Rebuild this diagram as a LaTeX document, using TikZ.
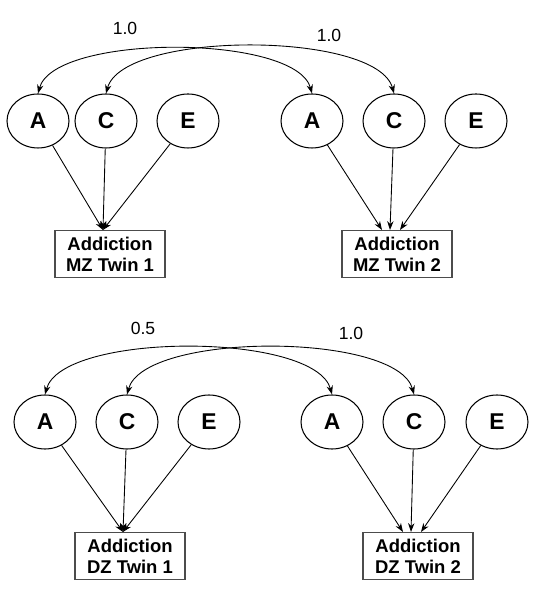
\documentclass[tikz,border=0pt]{standalone}
\usepackage{fontspec}
\setmainfont{Liberation Sans}
\usetikzlibrary{shapes.geometric,arrows.meta}
\tikzset{
	latent/.style={ellipse,draw,line width=.6pt,minimum width=1.24cm,minimum height=1.08cm,inner sep=0pt,font=\bfseries\fontsize{13}{15}\selectfont},
	pheno/.style={rectangle,draw=black!70,line width=.6pt,align=center,minimum width=2.2cm,minimum height=.94cm,inner sep=1pt,font=\bfseries\fontsize{10.5}{12}\selectfont},
	path/.style={line width=.5pt,-{Stealth[length=5pt,width=3.6pt]}},
	corr/.style={line width=.5pt,{Stealth[length=5pt,width=3.6pt]}-{Stealth[length=5pt,width=3.6pt]},out=75,in=105,looseness=.58},
	coef/.style={font=\fontsize{10}{12}\selectfont}
}
\begin{document}
\begin{tikzpicture}
	\useasboundingbox (0,0) rectangle (10.72,11.98);
	% MZ twins
	\node[latent] (mzA1) at (.76,9.56) {A};
	\node[latent] (mzC1) at (2.12,9.56) {C};
	\node[latent] (mzE1) at (3.76,9.56) {E};
	\node[latent] (mzA2) at (6.24,9.56) {A};
	\node[latent] (mzC2) at (7.88,9.56) {C};
	\node[latent] (mzE2) at (9.52,9.56) {E};
	\node[pheno] (mz1) at (2.2,6.9) {Addiction\\MZ Twin 1};
	\node[pheno] (mz2) at (7.94,6.9) {Addiction\\MZ Twin 2};
	\draw[path] (mzA1) -- ([xshift=-.14cm]mz1.north);
	\draw[path] (mzC1) -- ([xshift=-.14cm]mz1.north);
	\draw[path] (mzE1) -- ([xshift=-.14cm]mz1.north);
	\draw[path] (mzA2) -- ([xshift=-.3cm]mz2.north);
	\draw[path] (mzC2) -- ([xshift=-.14cm]mz2.north);
	\draw[path] (mzE2) -- ([xshift=.06cm]mz2.north);
	\draw[corr] (mzA1.north) to (mzA2.north);
	\draw[corr] (mzC1.north) to (mzC2.north);
	\node[coef] (rmzA) at (2.5,11.42) {1.0};
	\node[coef] (rmzC) at (6.58,11.28) {1.0};
	% DZ twins
	\node[latent] (dzA1) at (.9,3.54) {A};
	\node[latent] (dzC1) at (2.54,3.54) {C};
	\node[latent] (dzE1) at (4.18,3.54) {E};
	\node[latent] (dzA2) at (6.64,3.54) {A};
	\node[latent] (dzC2) at (8.28,3.54) {C};
	\node[latent] (dzE2) at (9.94,3.54) {E};
	\node[pheno] (dz1) at (2.6,.86) {Addiction\\DZ Twin 1};
	\node[pheno] (dz2) at (8.36,.86) {Addiction\\DZ Twin 2};
	\draw[path] (dzA1) -- ([xshift=-.14cm]dz1.north);
	\draw[path] (dzC1) -- ([xshift=-.14cm]dz1.north);
	\draw[path] (dzE1) -- ([xshift=-.14cm]dz1.north);
	\draw[path] (dzA2) -- ([xshift=-.3cm]dz2.north);
	\draw[path] (dzC2) -- ([xshift=-.14cm]dz2.north);
	\draw[path] (dzE2) -- ([xshift=.06cm]dz2.north);
	\draw[corr] (dzA1.north) to (dzA2.north);
	\draw[corr] (dzC1.north) to (dzC2.north);
	\node[coef] (rdzA) at (2.86,5.42) {0.5};
	\node[coef] (rdzC) at (7.02,5.32) {1.0};
\end{tikzpicture}
\end{document}
